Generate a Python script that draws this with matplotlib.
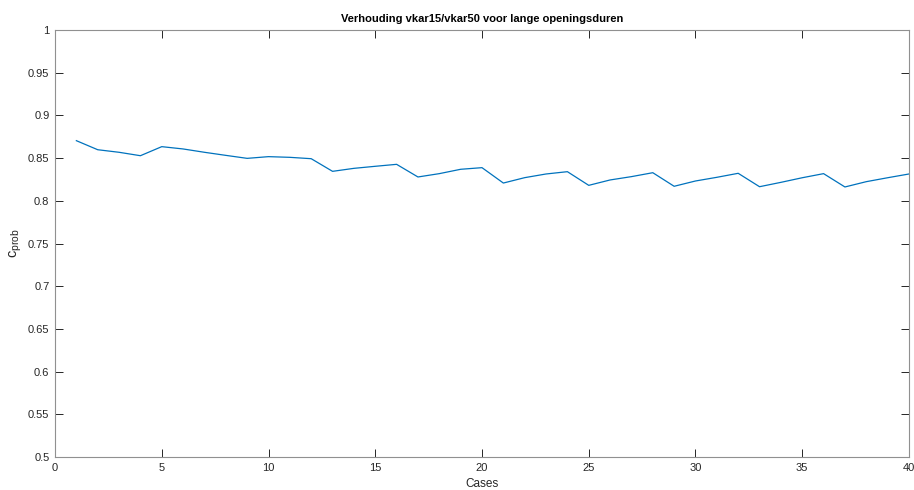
import matplotlib.pyplot as plt
import numpy as np

plt.rcParams['font.family'] = ['Liberation Sans', 'DejaVu Sans']
plt.rcParams['mathtext.fontset'] = 'custom'
plt.rcParams['mathtext.rm'] = 'Liberation Sans'
plt.rcParams['mathtext.it'] = 'Liberation Sans'
plt.rcParams['mathtext.default'] = 'regular'

cases = np.arange(1, 41)
ratio = [0.8704, 0.8598, 0.8568, 0.8528, 0.8634, 0.8607, 0.8568, 0.8532, 0.8497, 0.8517,
         0.8509, 0.8493, 0.8345, 0.8380, 0.8404, 0.8427, 0.8279, 0.8318, 0.8369, 0.8388,
         0.8208, 0.8271, 0.8314, 0.8341, 0.8181, 0.8244, 0.8283, 0.8329, 0.8170, 0.8232,
         0.8275, 0.8322, 0.8165, 0.8216, 0.8270, 0.8318, 0.8162, 0.8224, 0.8270, 0.8314]

xticks = np.arange(0, 41, 5)
yticks = np.arange(0.5, 1.001, 0.05)
ytick_labels = ['0.5', '0.55', '0.6', '0.65', '0.7', '0.75', '0.8', '0.85', '0.9', '0.95', '1']

fig = plt.figure(figsize=(9.14, 4.9), dpi=100)
ax = fig.add_axes([0.0602, 0.0673, 0.9343, 0.8715])

ax.plot(cases, ratio, color='#0072BD', lw=0.9)

ax.set_xlim(0, 40)
ax.set_ylim(0.5, 1)
ax.set_xticks(xticks)
ax.set_yticks(yticks)
ax.set_yticklabels(ytick_labels)
ax.tick_params(direction='in', length=5.5, width=0.7, color='#262626',
               labelcolor='#262626', labelsize=8, top=True, right=True, pad=4)
for s in ax.spines.values():
    s.set_color('#909090')
    s.set_linewidth(0.8)

ax.set_title('Verhouding vkar15/vkar50 voor lange openingsduren',
             fontsize=8, fontweight='bold', color='black', pad=6)
ax.set_xlabel('Cases', fontsize=8.5, color='#262626', labelpad=4)
ax.set_ylabel('c$_{prob}$', fontsize=10.5, color='#262626', labelpad=3)

fig.savefig('out.png', dpi=100)
